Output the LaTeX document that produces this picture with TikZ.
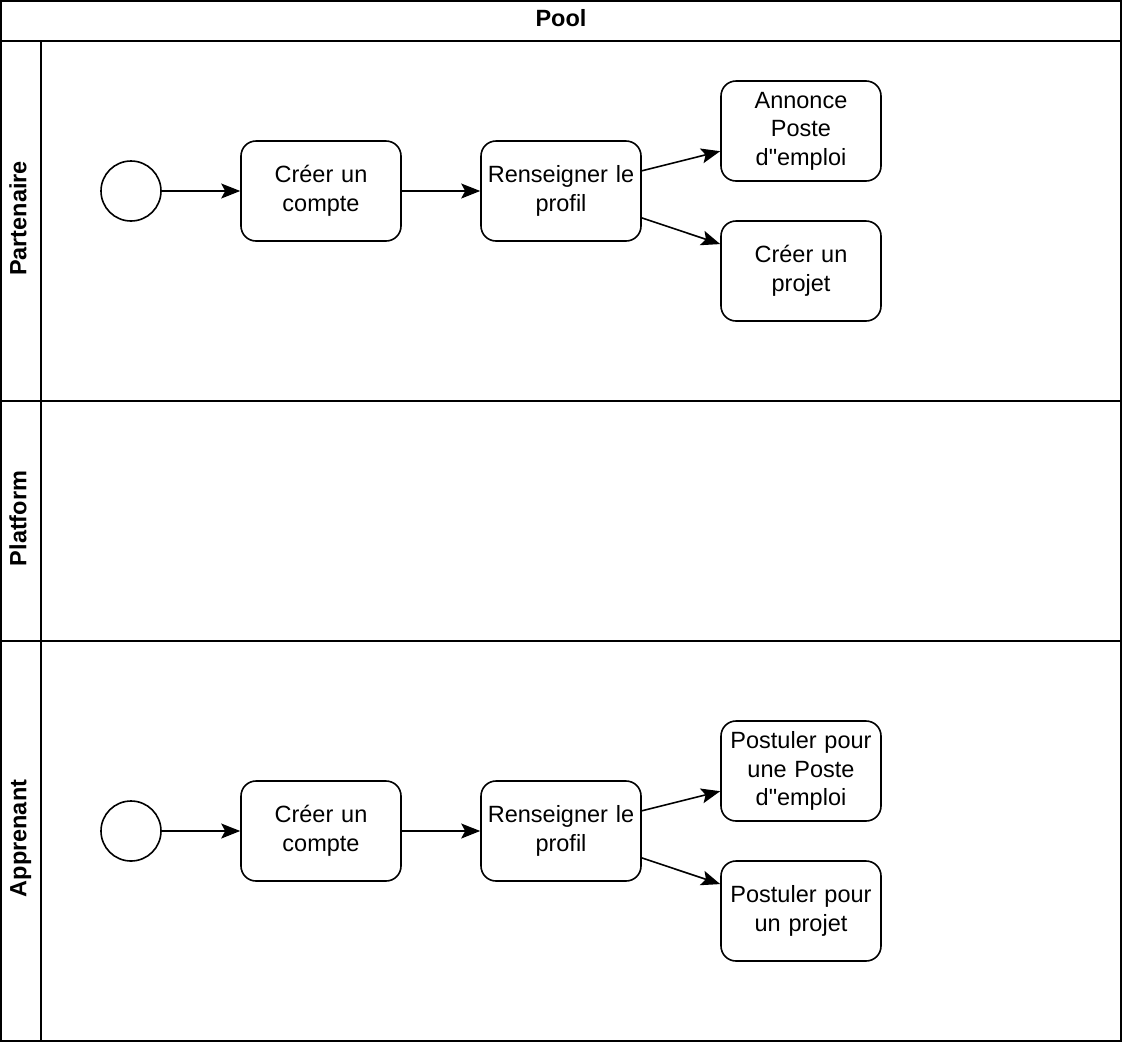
\documentclass[tikz,border=0pt]{standalone}
\usepackage{fontspec}
\setmainfont{Liberation Sans}[Ligatures=TeXOff]
\usetikzlibrary{shapes.geometric, arrows.meta}

\begin{document}
\begin{tikzpicture}[x=1pt, y=-1pt, line width=1.6pt, font=\fontsize{23.5}{28.5}\selectfont, node distance=240pt]
		% Define styles for the lanes, blocks and arrows
		\tikzstyle{title} = [font=\fontsize{23.5}{28.5}\selectfont\bfseries, inner sep=0pt, text height=16.8pt, text depth=0pt]
		\tikzstyle{start} = [circle, draw, minimum size=60pt, inner sep=0pt]
		\tikzstyle{task} = [rectangle, rounded corners=15pt, draw, text centered, minimum width=160pt, minimum height=100pt, text width=156pt, align=center, inner sep=0pt]
		\tikzstyle{arrow} = [-{Stealth[length=19pt, width=15pt, inset=4pt]}]
		
		% Pool and lanes
		\useasboundingbox (0,0) rectangle (1122,1042);
		\draw (1,1) rectangle (1121,1041);
		\draw (1,41) -- (1121,41);
		\draw (41,41) -- (41,1041);
		\draw (1,401) -- (1121,401);
		\draw (1,641) -- (1121,641);
		\node (pool) [title] at (561,18) {Pool};
		\node (partenaire) [title, rotate=90] at (18,218.5) {Partenaire};
		\node (platform) [title, rotate=90] at (18,518.5) {Platform};
		\node (apprenant) [title, rotate=90] at (18,838.5) {Apprenant};
		
		% Partenaire lane
		\node (startP) [start] at (131,191) {};
		\node (compteP) [task, right of=startP, node distance=190pt] {Créer un\\compte};
		\node (profilP) [task, right of=compteP] {Renseigner le\\profil};
		\node (annonce) [task, right of=profilP, yshift=60pt] {Annonce\\Poste\\d"emploi};
		\node (projetP) [task, right of=profilP, yshift=-80pt] {Créer un\\projet};
		
		% Apprenant lane
		\node (startA) [start] at (131,831) {};
		\node (compteA) [task, right of=startA, node distance=190pt] {Créer un\\compte};
		\node (profilA) [task, right of=compteA] {Renseigner le\\profil};
		\node (posteA) [task, right of=profilA, yshift=60pt] {Postuler pour\\une Poste\\d"emploi};
		\node (projetA) [task, right of=profilA, yshift=-80pt] {Postuler pour\\un projet};
		
		% Draw arrows between the blocks
		\draw [arrow] (startP) -- (compteP);
		\draw [arrow] (compteP) -- (profilP);
		\draw [arrow] (profilP) -- (annonce);
		\draw [arrow] (profilP) -- (projetP);
		\draw [arrow] (startA) -- (compteA);
		\draw [arrow] (compteA) -- (profilA);
		\draw [arrow] (profilA) -- (posteA);
		\draw [arrow] (profilA) -- (projetA);
	\end{tikzpicture}
\end{document}
